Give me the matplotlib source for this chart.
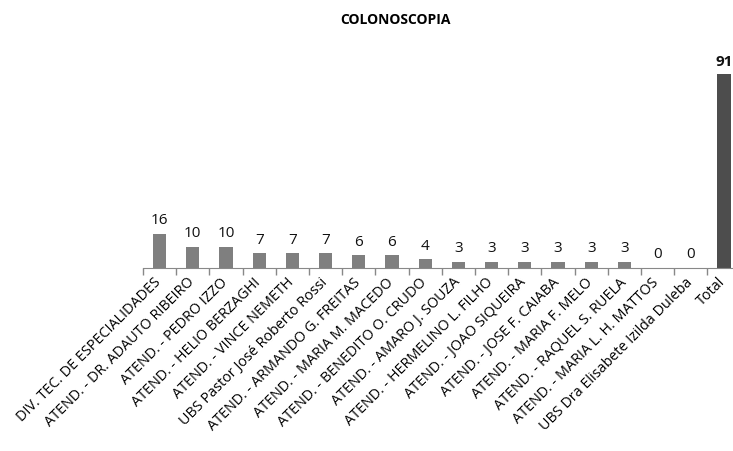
import matplotlib
matplotlib.use("Agg")
import matplotlib.pyplot as plt
import matplotlib.transforms as mtransforms
import numpy as np

categories = [
    "DIV. TEC. DE ESPECIALIDADES",
    "ATEND. - DR. ADAUTO RIBEIRO",
    "ATEND. - PEDRO IZZO",
    "ATEND. - HELIO BERZAGHI",
    "ATEND. - VINCE NEMETH",
    "UBS Pastor José Roberto Rossi",
    "ATEND. - ARMANDO G. FREITAS",
    "ATEND. - MARIA M. MACEDO",
    "ATEND. - BENEDITO O. CRUDO",
    "ATEND. - AMARO J. SOUZA",
    "ATEND. - HERMELINO L. FILHO",
    "ATEND. - JOAO SIQUEIRA",
    "ATEND. - JOSE F. CAIABA",
    "ATEND. - MARIA F. MELO",
    "ATEND. - RAQUEL S. RUELA",
    "ATEND. - MARIA L. H. MATTOS",
    "UBS Dra Elisabete Izilda Duleba",
    "Total",
]
values = [16, 10, 10, 7, 7, 7, 6, 6, 4, 3, 3, 3, 3, 3, 3, 0, 0, 91]

plt.rcParams["font.family"] = ["Open Sans", "DejaVu Sans"]

fig = plt.figure(figsize=(7.33, 4.51), dpi=100)
ax = fig.add_axes([143 / 733, 183 / 451, 597.6 / 733, 213 / 451])

x = np.arange(len(categories))
colors = ["#7f7f7f"] * (len(categories) - 1) + ["#4d4d4d"]
ax.bar(x, values, width=0.4, color=colors)

for i, v in enumerate(values):
    bold = categories[i] == "Total"
    ax.annotate(str(v), (i, v), xytext=(0, 4), textcoords="offset points",
                ha="center", va="bottom", fontsize=11,
                fontweight="bold" if bold else "normal", color="#111111")

ax.set_xlim(-0.5, len(categories) - 0.5)
ax.set_ylim(0, 100)
ax.set_xticks(x)
ax.set_xticklabels(categories, rotation=45, ha="right", rotation_mode="anchor",
                   fontsize=10.4, color="#000000")
ax.tick_params(axis="x", which="major", length=0, pad=5)
# shift labels a bit left so their right end sits near the bar
shift = mtransforms.ScaledTranslation(-0.06, 0, fig.dpi_scale_trans)
for lab in ax.get_xticklabels():
    lab.set_transform(lab.get_transform() + shift)
ax.set_xticks(np.arange(len(categories) + 1) - 0.5, minor=True)
ax.tick_params(axis="x", which="minor", length=5, color="#888888", width=1)
ax.set_yticks([])
for side in ["left", "right", "top"]:
    ax.spines[side].set_visible(False)
ax.spines["bottom"].set_color("#888888")

fig.text(395 / 733, 1 - 20 / 451, "COLONOSCOPIA", ha="center", va="center",
         fontsize=10, fontweight="bold", color="#000000")

fig.savefig("out.png", dpi=100)
